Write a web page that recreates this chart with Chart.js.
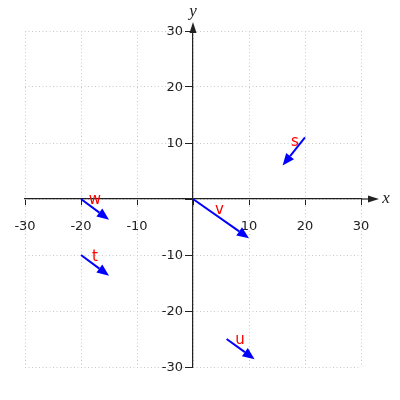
<!DOCTYPE html>
<html>
<head>
<meta charset="utf-8">
<script src="https://cdn.jsdelivr.net/npm/chart.js@4.4.1/dist/chart.umd.min.js"></script>
<style>
    html, body { margin: 0; padding: 0; background: #fff; }
    #wrap { width: 400px; height: 400px; }
</style>
</head>
<body>
<div id="wrap"><canvas id="vecChart"></canvas></div>
<script>
// vectors: start point, tip point, name
const vecNames = ['s', 'w', 'v', 't', 'u'];
const startX = [20, -20, 0, -20, 6];
const startY = [11, 0, 0, -10, -25];
const endX = [16, -15, 10, -15, 11];
const endY = [6, -3.7, -7, -13.7, -28.6];

// where each name is written (centre x, baseline y)
const labelX = [18.2, -17.5, 4.7, -17.5, 8.4];
const labelY = [9.5, -0.9, -2.7, -11.0, -25.9];

const axisTicks = [-30, -20, -10, 0, 10, 20, 30];

// arrows + names + axis arrowheads, all placed through the scales
const vectorPlugin = {
    id: 'vectors',
    afterDatasetsDraw(chart) {
        const ctx = chart.ctx;
        const xs = chart.scales.x;
        const ys = chart.scales.y;
        const headLen = 12;
        const headHalf = 5;

        ctx.save();
        for (let i = 0; i < vecNames.length; i++) {
            const x0 = xs.getPixelForValue(startX[i]);
            const y0 = ys.getPixelForValue(startY[i]);
            const x1 = xs.getPixelForValue(endX[i]);
            const y1 = ys.getPixelForValue(endY[i]);
            const ang = Math.atan2(y1 - y0, x1 - x0);
            const bx = x1 - headLen * Math.cos(ang);
            const by = y1 - headLen * Math.sin(ang);

            ctx.strokeStyle = '#0000ff';
            ctx.fillStyle = '#0000ff';
            ctx.lineWidth = 2;
            ctx.beginPath();
            ctx.moveTo(x0, y0);
            ctx.lineTo(bx, by);
            ctx.stroke();

            ctx.beginPath();
            ctx.moveTo(x1, y1);
            ctx.lineTo(bx + headHalf * Math.sin(ang), by - headHalf * Math.cos(ang));
            ctx.lineTo(bx - headHalf * Math.sin(ang), by + headHalf * Math.cos(ang));
            ctx.closePath();
            ctx.fill();
        }

        ctx.fillStyle = '#ff0000';
        ctx.font = '15px "DejaVu Sans"';
        ctx.textAlign = 'center';
        ctx.textBaseline = 'alphabetic';
        for (let i = 0; i < vecNames.length; i++) {
            ctx.fillText(vecNames[i], xs.getPixelForValue(labelX[i]), ys.getPixelForValue(labelY[i]));
        }
        ctx.restore();
    },
    afterDraw(chart) {
        const ctx = chart.ctx;
        const area = chart.chartArea;
        const xs = chart.scales.x;
        const ys = chart.scales.y;
        const ox = xs.getPixelForValue(0);
        const oy = ys.getPixelForValue(0);

        ctx.save();
        ctx.strokeStyle = '#222';
        ctx.fillStyle = '#222';
        ctx.lineWidth = 1.2;

        // x axis continues past 30 to an arrowhead
        ctx.beginPath();
        ctx.moveTo(area.right, oy);
        ctx.lineTo(area.right + 8, oy);
        ctx.stroke();
        ctx.beginPath();
        ctx.moveTo(area.right + 18, oy);
        ctx.lineTo(area.right + 7, oy - 3.5);
        ctx.lineTo(area.right + 7, oy + 3.5);
        ctx.closePath();
        ctx.fill();

        // y axis continues above 30
        ctx.beginPath();
        ctx.moveTo(ox, area.top);
        ctx.lineTo(ox, area.top - 2);
        ctx.stroke();
        ctx.beginPath();
        ctx.moveTo(ox, area.top - 9);
        ctx.lineTo(ox - 3.5, area.top + 2);
        ctx.lineTo(ox + 3.5, area.top + 2);
        ctx.closePath();
        ctx.fill();

        // y tick labels sit left of the tick marks (chart.js puts them on the axis line)
        ctx.font = '13px "DejaVu Sans"';
        ctx.textAlign = 'right';
        ctx.textBaseline = 'middle';
        ys.ticks.forEach((t, i) => {
            if (t.value === 0) return;
            ctx.fillText(String(t.value), ox - 10, ys.getPixelForTick(i) + 1);
        });

        ctx.font = 'italic 17px "Liberation Serif"';
        ctx.textAlign = 'center';
        ctx.fillText('x', area.right + 25, oy);
        ctx.fillText('y', ox, area.top - 19);
        ctx.restore();
    }
};

const gridCommon = {
    color: '#c8c8c8',
    tickColor: '#222',
    tickBorderDash: [],
    lineWidth: 1
};

new Chart(document.getElementById('vecChart'), {
    type: 'scatter',
    data: {
        datasets: [{
            data: startX.map((x, i) => ({ x: x, y: startY[i] })),
            pointRadius: 0,
            showLine: false
        }]
    },
    options: {
        responsive: true,
        maintainAspectRatio: false,
        animation: false,
        events: [],
        layout: {
            padding: { left: 25, right: 39, top: 31, bottom: 33 }
        },
        plugins: {
            legend: { display: false },
            tooltip: { enabled: false }
        },
        scales: {
            x: {
                type: 'linear',
                position: { y: 0 },
                min: -30,
                max: 30,
                afterBuildTicks: (scale) => { scale.ticks = axisTicks.map(v => ({ value: v })); },
                ticks: {
                    color: '#222',
                    padding: 14,
                    maxRotation: 0,
                    font: { family: 'DejaVu Sans', size: 13 },
                    callback: (v) => v === 0 ? '' : String(v)
                },
                grid: Object.assign({ tickLength: 6 }, gridCommon),
                border: { color: '#222', width: 1.2, dash: [1, 2.5] }
            },
            y: {
                type: 'linear',
                position: { x: 0 },
                min: -30,
                max: 30,
                afterBuildTicks: (scale) => { scale.ticks = axisTicks.map(v => ({ value: v })); },
                ticks: { display: false },
                grid: Object.assign({ tickLength: 7 }, gridCommon),
                border: { color: '#222', width: 1.2, dash: [1, 2.5] }
            }
        }
    },
    plugins: [vectorPlugin]
});
</script>
</body>
</html>
